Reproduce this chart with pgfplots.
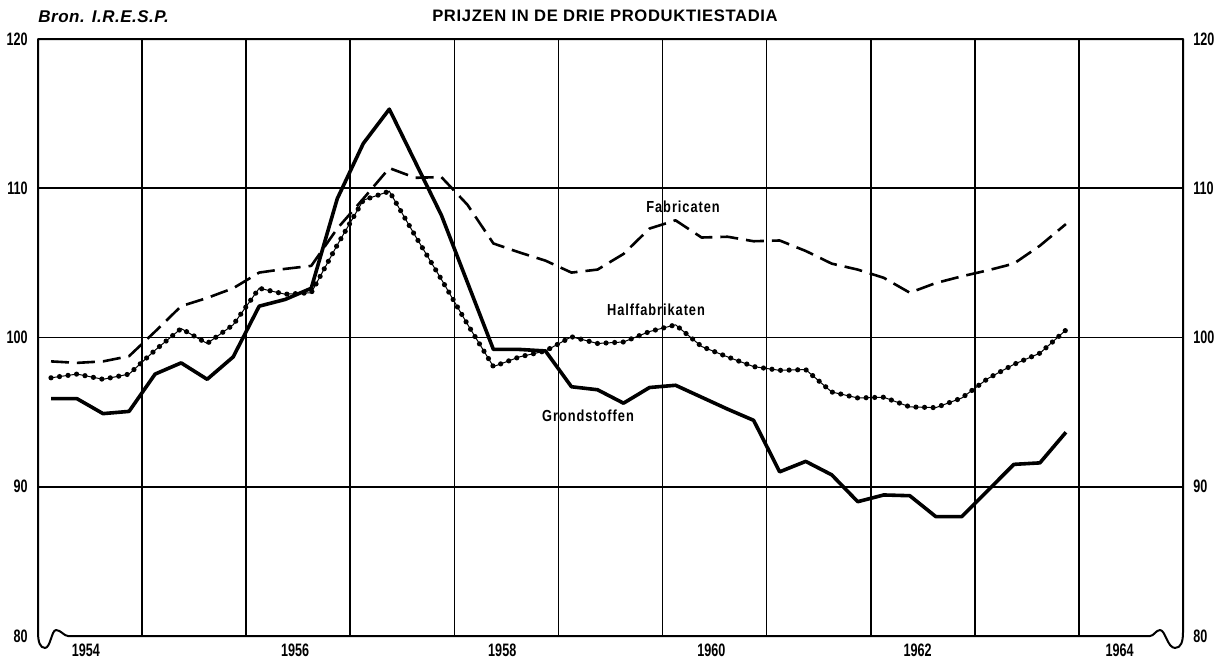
\documentclass[border=0pt]{standalone}
\usepackage{fontspec}
\setmainfont{Liberation Sans}
\newfontfamily\cond[FakeStretch=0.7]{Liberation Sans}
\newfontfamily\lab[FakeStretch=0.8,LetterSpace=6]{Liberation Sans}
\newfontfamily\titlefont[LetterSpace=4]{Liberation Sans}
\newfontfamily\bronfont[LetterSpace=3]{Liberation Sans}
\usepackage{pgfplots}
\usepackage{pgfplotstable}
\pgfplotsset{compat=1.18}
\pgfplotstableread{
x G F H
1954.125 95.9 98.4 97.3
1954.375 95.9 98.3 97.55
1954.625 94.9 98.4 97.2
1954.875 95.05 98.75 97.55
1955.125 97.55 100.4 99.15
1955.375 98.3 102.1 100.6
1955.625 97.2 102.65 99.6
1955.875 98.7 103.3 100.85
1956.125 102.1 104.35 103.3
1956.375 102.55 104.6 102.9
1956.625 103.3 104.8 103.0
1956.875 109.3 107.3 106.2
1957.125 113.0 109.3 109.2
1957.375 115.3 111.35 109.8
1957.625 111.75 110.7 106.8
1957.875 108.2 110.75 103.9
1958.125 103.7 108.9 100.9
1958.375 99.2 106.3 98.05
1958.625 99.2 105.7 98.7
1958.875 99.1 105.15 99.1
1959.125 96.7 104.35 100.05
1959.375 96.5 104.55 99.6
1959.625 95.6 105.6 99.7
1959.875 96.65 107.3 100.4
1960.125 96.8 107.85 100.85
1960.375 96.0 106.7 99.4
1960.625 95.2 106.75 98.7
1960.875 94.45 106.45 98.05
1961.125 91.0 106.5 97.8
1961.375 91.7 105.8 97.85
1961.625 90.8 104.95 96.35
1961.875 89.0 104.55 95.95
1962.125 89.45 104.0 96.0
1962.375 89.4 103.0 95.35
1962.625 88.0 103.65 95.3
1962.875 88.0 104.1 95.95
1963.125 89.75 104.5 97.25
1963.375 91.5 104.95 98.2
1963.625 91.6 106.15 98.95
1963.875 93.65 107.6 100.5
}\prices
\begin{document}
\begin{tikzpicture}
\useasboundingbox (-19pt,-12pt) rectangle (593pt,318pt);
\begin{axis}[
  scale only axis, width=572.5pt, height=298.5pt,
  xmin=1954, xmax=1965, ymin=80, ymax=120,
  clip=false,
  axis line style={draw=none},
  /pgf/number format/assume math mode=true,
  xtick={1954.46,1956.47,1958.46,1960.47,1962.45,1964.39},
  xticklabels={1954,1956,1958,1960,1962,1964},
  minor xtick={1955,1956,...,1964},
  xminorgrids=true,
  ytick={90,100,110},
  extra y ticks={80,120},
  extra y tick style={grid=none},
  ymajorgrids=true,
  major tick length=0pt, minor tick length=0pt,
  grid style={black, line width=0.8pt},
  minor grid style={black, line width=0.8pt},
  tick label style={font=\cond\bfseries\fontsize{9}{10}\selectfont, inner sep=0pt},
  xticklabel style={anchor=north, yshift=-4pt},
  yticklabel style={anchor=east, xshift=-5pt},
]
\addplot[black, line width=1.8pt, line join=round] table[x=x,y=G]{\prices};
\addplot[black, line width=1.3pt, dash pattern=on 9pt off 4pt, line join=round] table[x=x,y=F]{\prices};
\addplot[black, line width=0.5pt] table[x=x,y=H]{\prices};
\addplot[black, line width=2.6pt, line cap=round, dash pattern=on 0pt off 4.3pt] table[x=x,y=H]{\prices};
% frame with break symbols
\draw[black, line width=1pt, line join=round]
 (axis cs:1954.288,80) -- (axis cs:1964.683,80)
 .. controls (axis cs:1964.72,80) and (axis cs:1964.74,80.4) .. (axis cs:1964.779,80.4)
 .. controls (axis cs:1964.83,80.4) and (axis cs:1964.85,79.2) .. (axis cs:1964.923,79.2)
 .. controls (axis cs:1964.98,79.2) and (axis cs:1965,79.6) .. (axis cs:1965,80.27)
 -- (axis cs:1965,120) -- (axis cs:1954,120) -- (axis cs:1954,80.27)
 .. controls (axis cs:1954,79.6) and (axis cs:1954.02,79.2) .. (axis cs:1954.067,79.2)
 .. controls (axis cs:1954.12,79.2) and (axis cs:1954.13,80.4) .. (axis cs:1954.173,80.4)
 .. controls (axis cs:1954.22,80.4) and (axis cs:1954.25,80) .. (axis cs:1954.288,80);
\node[font=\titlefont\bfseries\fontsize{8.3}{9}\selectfont] at (axis cs:1959.447,121.54) {PRIJZEN IN DE DRIE PRODUKTIESTADIA};
\node[font=\bronfont\bfseries\itshape\fontsize{8.5}{9}\selectfont, anchor=west, inner sep=0pt] at (axis cs:1954,121.47) {Bron. I.R.E.S.P.};
\node[font=\lab\bfseries\fontsize{8}{9}\selectfont] at (axis cs:1960.197,108.74) {Fabricaten};
\node[font=\lab\bfseries\fontsize{8}{9}\selectfont] at (axis cs:1959.937,101.84) {Halffabrikaten};
\node[font=\lab\bfseries\fontsize{8}{9}\selectfont] at (axis cs:1959.284,94.74) {Grondstoffen};
\end{axis}
\begin{axis}[
  scale only axis, width=572.5pt, height=298.5pt,
  xmin=1954, xmax=1965, ymin=80, ymax=120,
  axis line style={draw=none},
  /pgf/number format/assume math mode=true,
  xtick=\empty,
  ytick={80,90,...,120},
  yticklabel pos=right,
  major tick length=0pt,
  tick label style={font=\cond\bfseries\fontsize{9}{10}\selectfont, inner sep=0pt},
  yticklabel style={anchor=west, xshift=5pt},
]
\end{axis}
\end{tikzpicture}
\end{document}
